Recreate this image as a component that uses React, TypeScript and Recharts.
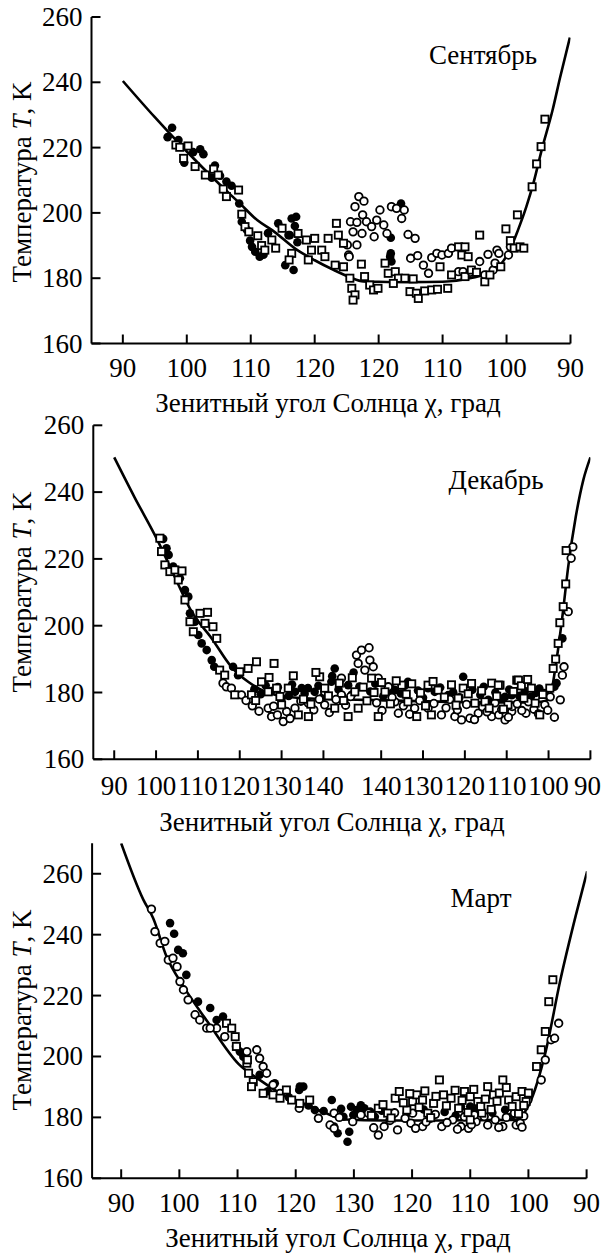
import { ComposedChart, Scatter, Line, XAxis, YAxis } from "recharts";

// x is a running coordinate along the sun's path: 90 -> max zenith angle -> 90
// (one unit = 1 degree), t is temperature in K

// --- September ---
const sepTicks = [0, 10, 20, 30, 40, 50, 60, 70];
const sepTickLabels = ["90", "100", "110", "120", "120", "110", "100", "90"];
const sepCurve = [
  [0, 240.4], [5, 229.3], [10, 218.8], [15, 209], [18.3, 202.9], [21, 197.8], [23.5, 194.5],
  [27, 189], [30, 185.5], [33, 182.5], [35.5, 180.3], [37.6, 179.0], [40, 178.9], [45, 178.8],
  [50, 178.9], [53.8, 179.8], [56.9, 181.5], [59, 184.0], [60.5, 188.6], [61.8, 194.8],
  [63.1, 201.9], [64.2, 209.1], [65.5, 219.3], [67.2, 231.5], [68.4, 241.7], [69.9, 253.7],
];
const sepFilled = [
  [7.7, 226.1], [7.0, 223.2], [8.7, 222.3], [12.1, 219.5], [12.6, 218], [9.6, 215.4], [14.4, 214.5],
  [13.9, 210.8], [16.2, 209.6], [17.0, 208.3], [18.2, 202.9], [18.6, 197.3], [19.4, 194.8],
  [20.2, 189.6], [20.7, 188.1], [21.4, 186.6], [22.7, 193.8], [24.3, 196.8], [26.4, 198.3],
  [25.4, 184.0], [26.7, 182.5], [25.9, 193.2], [27.1, 198.8], [26.1, 193.2], [41.9, 187.6],
  [41.8, 186.6], [41.9, 192.4], [43.5, 202.9], [42.0, 185.1], [11.0, 218.6], [15.2, 211.4],
  [19.9, 191.5], [22.0, 187.2], [26.9, 196.0], [27.3, 191.0],
];
const sepOpen = [
  [36.9, 205.0], [37.7, 203.6], [36.3, 201.9], [40.2, 200.9], [37.5, 199.4], [35.6, 197.3],
  [36.6, 197.1], [38.1, 197.3], [39.7, 197.8], [40.8, 196.3], [38.9, 195.8], [36.0, 194.2],
  [37.4, 193.7], [39.3, 192.7], [41.3, 193.7], [36.6, 190.2], [35.3, 187.1], [42.0, 201.9],
  [42.8, 201.4], [44.0, 200.9], [43.6, 198.3], [44.6, 193.4], [45.7, 192.2], [45.0, 186.1],
  [46.1, 186.9], [48.3, 186.3], [49.1, 187.6], [49.9, 187.1], [50.9, 187.6], [51.4, 189.2],
  [47.0, 184.0], [47.8, 181.5], [52.5, 182.0], [53.2, 182.0], [54.3, 181.8], [55.8, 185.1],
  [57.1, 187.3], [58.5, 188.6], [56.6, 181.0], [57.9, 182.5], [58.2, 184.6], [58.8, 187.6],
  [60.6, 189.6], [60.3, 187.1], [35.1, 190.2], [35.4, 186.6],
];
const sepSquares = [
  [8.3, 220.8], [8.9, 220.1], [10.2, 220.5], [9.5, 216.7], [11.3, 214.2], [12.9, 211.6],
  [14.2, 213.4], [14.9, 211.6], [15.7, 207.3], [16.2, 205.0], [18.1, 207.0], [18.6, 199.6],
  [19.1, 195.8], [19.7, 194.2], [21.1, 193.0], [21.7, 190.0], [22.2, 188.6], [23.3, 191.7],
  [23.9, 189.2], [24.9, 195.3], [26.4, 187.6], [26.0, 185.6], [27.4, 193.7], [28.7, 191.7],
  [30.0, 192.2], [29.5, 188.6], [31.1, 188.6], [32.1, 192.2], [33.4, 196.8], [33.7, 193.2],
  [34.5, 190.7], [31.6, 186.6], [33.2, 184.0], [34.5, 183.5], [29.0, 185.6], [35.5, 180.0],
  [35.8, 176.9], [36.3, 174.9], [36.0, 173.3], [37.3, 184.3], [37.8, 180.5], [38.6, 177.9],
  [39.2, 176.4], [39.9, 176.9], [41.0, 184.6], [41.5, 181.5], [42.6, 182.0], [43.1, 180.0],
  [42.3, 178.4], [44.1, 180.0], [45.4, 179.8], [44.9, 175.9], [45.9, 175.4], [46.2, 173.8],
  [47.2, 176.1], [48.3, 176.4], [49.2, 176.6], [50.8, 176.9], [49.6, 183.5], [51.4, 181.0],
  [52.5, 189.6], [53.5, 189.6], [53.0, 187.1], [54.0, 186.6], [55.8, 193.2], [53.5, 180.5],
  [54.5, 182.5], [55.3, 181.8], [56.6, 178.9], [57.4, 181.0], [59.9, 195.1], [60.6, 191.5],
  [61.2, 189.2], [62.1, 189.6], [62.7, 189.2], [61.7, 199.4], [64.0, 208.0], [64.7, 215.0],
  [65.4, 220.3], [66.0, 228.7], [59.1, 183.5],
];

// --- December ---
const decTicks = [0, 10, 20, 30, 40, 50, 63.8, 73.8, 83.8, 93.8, 103.8, 113.8];
const decTickLabels = ["90", "100", "110", "120", "130", "140", "140", "130", "120", "110", "100", "90"];
const decCurve = [
  [0, 250.4], [4.8, 238.6], [10.3, 225.7], [14.5, 214.5], [18.5, 204.2], [23.3, 196.2],
  [28, 187.7], [32, 183.2], [38.4, 179.3], [45, 178.3], [60, 177.8], [80, 177.2], [95, 177],
  [102, 177.2], [103.9, 178], [105.7, 189.7], [107.1, 202.7], [108.5, 217.7], [110.3, 232.6],
  [112.1, 243.6], [113.8, 250.4],
];
const decFilled = [
  [11.7, 226.0], [12.5, 223.2], [13.0, 221.2], [14.1, 217.7], [15.7, 214.2], [16.9, 210.7],
  [17.7, 208.7], [18.1, 203.7], [19.3, 201.2], [20.1, 197.2], [20.9, 194.7], [22.1, 192.7],
  [23.3, 189.7], [23.9, 187.7], [28.4, 187.7], [29.6, 185.2], [46.3, 181.3], [52.7, 187.2],
  [51.9, 183.2], [55.9, 182.2], [70.2, 183.2], [83.4, 184.7], [75.0, 181.3], [65.5, 180.2],
  [43.2, 180.2], [95.0, 179.2], [40.0, 178.3], [89.4, 177.8], [107.1, 196.2], [105.2, 181.7],
  [102.9, 179.8], [105.7, 182.8], [44.8, 181.3], [47.9, 180.2], [67.1, 180.7], [76.6, 180.2],
  [79.8, 179.2], [93.4, 178.7], [33.5, 181.0], [35.0, 179.5], [36.2, 182.1], [37.5, 180.4],
  [39.1, 181.6], [41.7, 179.0], [42.5, 182.4], [45.5, 179.6], [48.8, 182.0], [49.9, 178.7],
  [53.6, 180.9], [56.8, 179.4], [58.6, 181.8], [61.2, 180.3], [62.4, 182.6], [64.3, 178.9],
  [66.2, 181.2], [68.5, 179.7], [69.4, 182.0], [72.6, 180.6], [73.8, 178.4], [77.9, 181.5],
  [81.0, 180.1], [82.5, 178.6], [85.6, 180.8], [87.5, 179.3], [88.3, 181.7], [91.1, 180.0],
  [92.7, 178.2], [94.4, 180.9], [96.8, 179.0], [98.1, 180.4], [99.6, 178.8], [100.8, 179.9],
  [101.6, 181.2], [52.1, 184.9], [57.2, 186.0],
];
const decOpen = [
  [26.0, 182.8], [26.8, 181.7], [28.0, 181.3], [36.8, 175.3], [37.6, 172.8], [39.0, 173.3],
  [40.4, 171.3], [41.2, 174.3], [43.2, 175.3], [46.4, 176.8], [50.3, 176.3], [54.3, 184.3],
  [57.9, 191.2], [59.1, 192.7], [60.9, 193.4], [58.3, 188.7], [61.1, 189.7], [59.9, 186.7],
  [61.9, 187.7], [63.1, 184.3], [65.5, 181.7], [67.1, 177.2], [67.9, 173.8], [71.8, 175.3],
  [75.0, 175.3], [78.2, 173.3], [81.4, 172.8], [83.0, 171.8], [85.0, 172.3], [87.0, 173.8],
  [90.2, 172.8], [93.4, 171.8], [95.0, 174.3], [30.4, 179.3], [50.3, 180.2], [54.3, 179.3],
  [91.9, 173.3], [95.1, 175.8], [98.4, 173.8], [102.9, 176.3], [105.2, 172.6], [106.6, 177.8],
  [107.5, 187.7], [107.1, 185.2], [108.5, 204.2], [109.2, 220.2], [109.6, 223.6],
  [31.5, 177.6], [33.0, 176.0], [34.6, 174.4], [38.1, 175.9], [42.0, 172.2], [44.6, 177.4],
  [47.7, 174.8], [49.0, 178.0], [51.4, 174.0], [53.0, 177.9], [55.3, 176.2], [56.5, 178.8],
  [62.7, 176.9], [64.0, 174.6], [66.4, 178.5], [69.1, 176.0], [70.6, 173.5], [73.0, 177.6],
  [76.4, 176.7], [79.3, 175.4], [80.2, 177.9], [82.0, 174.8], [84.2, 176.4], [86.1, 171.9],
  [88.0, 175.7], [89.1, 174.2], [91.0, 176.9], [92.6, 174.9], [94.2, 172.6], [96.3, 176.6],
  [97.4, 174.6], [99.0, 177.2], [100.3, 175.0], [101.4, 173.6], [103.6, 174.7], [104.2, 178.7],
];
const decSquares = [
  [10.9, 226.2], [11.3, 222.2], [12.1, 218.2], [13.3, 216.2], [14.5, 216.7], [16.2, 216.4],
  [15.3, 213.7], [16.9, 207.7], [18.1, 201.2], [18.9, 198.2], [20.5, 203.7], [22.3, 204.0],
  [21.7, 200.7], [23.6, 199.7], [24.5, 196.2], [25.2, 186.7], [26.4, 185.2], [28.8, 179.3],
  [30.0, 186.2], [32.0, 187.2], [34.0, 189.2], [38.2, 188.7], [32.8, 179.3], [35.2, 183.2],
  [36.8, 180.2], [38.8, 181.3], [41.6, 181.3], [44.0, 173.3], [46.4, 172.8], [49.1, 184.7],
  [50.3, 181.3], [52.7, 175.3], [55.9, 172.8], [58.3, 175.3], [61.5, 184.3], [63.1, 172.8],
  [64.7, 180.2], [68.7, 182.2], [72.3, 172.8], [75.0, 182.2], [77.4, 180.7], [75.8, 173.3],
  [82.2, 178.3], [83.4, 181.3], [86.2, 176.8], [90.2, 182.8], [92.2, 182.2], [88.6, 177.2],
  [96.2, 183.7], [94.1, 176.3], [57.5, 180.2], [40.0, 176.3], [70.2, 177.2], [96.6, 183.7],
  [97.3, 182.0], [99.7, 181.3], [101.7, 173.3], [104.1, 181.3], [104.9, 187.2], [105.5, 190.0],
  [106.1, 194.7], [106.5, 200.9], [107.3, 205.7], [107.9, 212.5], [108.0, 222.5], [91.8, 182.2],
  [33.8, 177.6], [37.0, 184.5], [39.6, 178.8], [42.8, 185.0], [45.2, 178.0], [47.0, 176.5],
  [48.2, 186.0], [51.2, 179.0], [53.8, 182.8], [54.8, 177.6], [56.9, 184.4], [59.5, 181.6],
  [60.4, 177.5], [62.1, 180.0], [63.9, 183.0], [66.0, 176.6], [67.4, 183.5], [69.8, 179.5],
  [71.1, 182.6], [73.2, 179.9], [74.4, 176.0], [76.2, 183.3], [78.9, 178.6], [80.6, 182.3],
  [81.7, 176.2], [84.6, 179.6], [85.4, 182.7], [87.8, 180.5], [89.6, 175.3], [91.4, 178.9],
  [93.0, 175.0], [95.4, 180.3], [97.9, 178.3], [98.8, 183.9], [100.6, 176.8], [102.4, 179.4],
];

// --- March ---
const marTicks = [0, 10, 20, 30, 40, 50, 60, 70, 80];
const marTickLabels = ["90", "100", "110", "120", "130", "120", "110", "100", "90"];
const marCurve = [
  [0, 270], [3.8, 251.5], [5.5, 245.4], [7.8, 232.8], [10.7, 223], [15, 211], [20.2, 197.5],
  [23.8, 192.3], [28.4, 186.8], [31.9, 184.1], [35, 181.5], [38.5, 179.3], [45, 179], [55, 179],
  [67.6, 179.2], [70.2, 184.6], [72.9, 201.1], [75.5, 225.2], [78.1, 246], [80.1, 260.8],
];
const marFilled = [
  [8.4, 243.8], [9.1, 240.3], [9.8, 235.0], [10.6, 233.9], [11.2, 226.8], [13.2, 218.0],
  [15.3, 215.9], [16.4, 212.0], [17.5, 213.1], [20.4, 201.6], [21.0, 199.9], [23.8, 194.0],
  [26.4, 191.2], [30.7, 190.1], [31.3, 190.1], [30.6, 189.0], [36.2, 185.7], [36.6, 177.0],
  [37.2, 174.8], [38.9, 172.0], [39.2, 175.3], [39.5, 183.5], [40.5, 182.4], [41.8, 183.0],
  [42.8, 181.9], [38.2, 180.2], [33.3, 182.4], [58.4, 183.5], [61.0, 182.4], [49.1, 181.4],
  [37.8, 182.8], [39.9, 180.8], [41.2, 184.0], [43.6, 180.2], [44.8, 182.2], [46.6, 180.7],
  [52.0, 182.6], [55.6, 181.8], [57.5, 180.6], [60.0, 183.6], [63.8, 181.5], [66.0, 182.5],
  [67.0, 180.2], [25.2, 188.6], [28.8, 186.6], [32.2, 183.9], [34.8, 182.1],
];
const marOpen = [
  [5.2, 248.4], [5.8, 241.0], [6.7, 237.2], [7.5, 237.8], [8.1, 231.7], [8.9, 232.3], [9.6, 229.5],
  [10.1, 224.6], [10.7, 221.9], [11.5, 218.6], [12.7, 213.7], [13.5, 212.0], [14.7, 209.3],
  [16.4, 209.3], [17.8, 206.5], [19.8, 203.3], [21.6, 201.6], [23.3, 202.2], [23.8, 199.4],
  [24.4, 196.7], [25.0, 194.5], [26.1, 190.7], [27.3, 187.9], [15.3, 209.3], [30.6, 183.0],
  [33.9, 179.7], [35.9, 177.5], [36.6, 176.4], [36.6, 181.4], [44.2, 174.2], [45.2, 177.0],
  [47.5, 175.9], [48.8, 179.7], [49.8, 178.1], [51.8, 177.0], [53.1, 179.7], [55.1, 177.0],
  [57.0, 179.2], [58.4, 177.0], [59.7, 176.4], [61.0, 178.6], [63.0, 177.5], [64.3, 179.2],
  [65.6, 177.0], [67.6, 181.4], [67.9, 177.5], [68.6, 178.1], [69.9, 185.7], [72.2, 192.3],
  [72.9, 198.9], [73.9, 205.5], [74.5, 206.0], [75.2, 210.9], [42.5, 181.4], [50.1, 181.4],
  [60.7, 180.8], [37.5, 180.0], [39.8, 178.6], [41.2, 180.8], [43.4, 176.6], [46.2, 179.0],
  [47.0, 181.5], [50.6, 176.4], [52.4, 178.5], [54.0, 181.0], [56.0, 178.3], [57.8, 176.1],
  [59.0, 180.2], [60.2, 177.6], [62.4, 180.3], [64.9, 176.7], [66.2, 180.0], [68.9, 176.8],
  [69.2, 180.4],
];
const marSquares = [
  [18.1, 210.9], [19.0, 209.3], [19.6, 206.5], [19.8, 203.3], [21.6, 197.8], [21.9, 194.5],
  [22.7, 191.7], [24.4, 187.9], [26.1, 187.4], [27.3, 186.3], [29.3, 185.7], [30.7, 184.6],
  [32.4, 185.7], [28.4, 189.0], [22.4, 190.1], [21.7, 198.9], [44.2, 183.0], [45.8, 181.4],
  [47.1, 186.3], [47.8, 188.5], [49.1, 182.4], [50.1, 185.2], [50.8, 187.4], [51.8, 185.7],
  [52.7, 181.4], [53.7, 184.6], [54.7, 192.3], [55.4, 187.4], [56.7, 186.3], [58.0, 183.0],
  [59.0, 188.5], [60.0, 186.8], [61.3, 185.2], [62.0, 181.4], [63.0, 190.1], [64.0, 187.4],
  [65.0, 188.0], [65.6, 192.3], [66.6, 185.7], [67.9, 186.8], [68.9, 188.5], [69.6, 185.2],
  [71.4, 196.7], [72.2, 202.2], [72.9, 208.2], [73.5, 218.0], [74.2, 225.2], [60.0, 179.2],
  [43.0, 180.6], [45.0, 184.2], [46.4, 179.8], [48.5, 184.8], [49.6, 187.8], [51.2, 183.3],
  [52.2, 188.7], [53.2, 179.9], [54.1, 186.9], [55.9, 183.8], [57.4, 188.9], [58.6, 185.6],
  [59.6, 181.6], [60.6, 189.2], [61.8, 183.6], [62.6, 186.0], [63.6, 182.6], [64.6, 185.3],
  [66.2, 189.8], [67.2, 183.6], [68.3, 181.2], [69.2, 183.9], [70.0, 188.0],
];

const yTicks = [160, 180, 200, 220, 240, 260];

const toRows = (a: number[][]) => a.map(([p, t]) => ({ p, t }));

const FONT = '"Liberation Serif", "Times New Roman", serif';
const FS = 27;
const PAGE_W = 602;

const FilledDot = (props: any) => <circle cx={props.cx} cy={props.cy} r={4.3} fill="#000" />;
const OpenDot = (props: any) => (
  <circle cx={props.cx} cy={props.cy} r={3.8} fill="#fff" stroke="#000" strokeWidth={1.8} />
);
const OpenSquare = (props: any) => (
  <rect x={props.cx - 3.6} y={props.cy - 3.6} width={7.2} height={7.2} fill="#fff" stroke="#000" strokeWidth={1.8} />
);

function Panel(props: any) {
  const { top, height, margin, xDomain, ticks, labels, yDomain, curve, filled, open, squares, labelGap } = props;
  const XTick = (tp: any) => {
    const i = ticks.indexOf(tp.payload.value);
    const label = labels[i];
    // keep the last label inside the page
    const halfW = (label.length * FS * 0.5) / 2;
    const tx = Math.min(tp.x, PAGE_W - 1 - halfW);
    return (
      <g>
        <line x1={tp.x} x2={tp.x} y1={tp.y} y2={tp.y - 9} stroke="#000" strokeWidth={2} />
        <text x={tx} y={tp.y + labelGap} textAnchor="middle" dominantBaseline="central" fontFamily={FONT} fontSize={FS} fill="#000">
          {label}
        </text>
      </g>
    );
  };
  const YTick = (tp: any) => (
    <g>
      <line x1={tp.x} x2={tp.x + 9} y1={tp.y} y2={tp.y} stroke="#000" strokeWidth={2} />
      <text x={tp.x - 9} y={tp.y} textAnchor="end" dominantBaseline="central" fontFamily={FONT} fontSize={FS} fill="#000">
        {tp.payload.value}
      </text>
    </g>
  );
  return (
    <div style={{ position: "absolute", left: 0, top, width: PAGE_W, height }}>
      <ComposedChart width={PAGE_W} height={height} margin={margin}>
        <XAxis
          type="number"
          dataKey="p"
          domain={xDomain}
          ticks={ticks}
          allowDataOverflow
          height={30}
          tickSize={0}
          tickMargin={0}
          tickLine={false}
          axisLine={{ stroke: "#000", strokeWidth: 2 }}
          tick={XTick}
          interval={0}
        />
        <YAxis
          type="number"
          dataKey="t"
          domain={yDomain}
          ticks={yTicks}
          allowDataOverflow
          width={60}
          tickSize={0}
          tickMargin={0}
          tickLine={false}
          axisLine={{ stroke: "#000", strokeWidth: 2 }}
          tick={YTick}
          interval={0}
        />
        <Line data={toRows(curve)} dataKey="t" type="monotone" stroke="#000" strokeWidth={2.6} dot={false} isAnimationActive={false} />
        <Scatter data={toRows(filled)} shape={FilledDot} isAnimationActive={false} />
        <Scatter data={toRows(open)} shape={OpenDot} isAnimationActive={false} />
        <Scatter data={toRows(squares)} shape={OpenSquare} isAnimationActive={false} />
      </ComposedChart>
    </div>
  );
}

const txt: any = { position: "absolute", fontFamily: FONT, fontSize: FS, color: "#000", whiteSpace: "nowrap", lineHeight: 1 };

function YTitle({ x, y }: { x: number; y: number }) {
  return (
    <div style={{ ...txt, left: x, top: y, transform: "translate(-50%, -50%) rotate(-90deg)" }}>
      Температура <i>T</i>, K
    </div>
  );
}

function XTitle({ x, y }: { x: number; y: number }) {
  return (
    <div style={{ ...txt, left: x, top: y, transform: "translate(-50%, -50%)" }}>
      Зенитный угол Солнца χ, град
    </div>
  );
}

function Month({ x, y, text }: { x: number; y: number; text: string }) {
  return <div style={{ ...txt, left: x, top: y, transform: "translate(-50%, -50%)" }}>{text}</div>;
}

export default function App() {
  return (
    <div style={{ position: "absolute", left: 0, top: 0, width: PAGE_W, height: 1253, background: "#fff", overflow: "hidden" }}>
      <Panel
        top={0}
        height={420}
        margin={{ top: 17, right: 31.5, bottom: 46.5, left: 31.5 }}
        xDomain={[-4.9, 70]}
        ticks={sepTicks}
        labels={sepTickLabels}
        yDomain={[160, 260]}
        curve={sepCurve}
        filled={sepFilled}
        open={sepOpen}
        squares={sepSquares}
        labelGap={24.5}
      />
      <Panel
        top={410}
        height={420}
        margin={{ top: 15.3, right: 11.6, bottom: 40.7, left: 33.3 }}
        xDomain={[-5, 113.8]}
        ticks={decTicks}
        labels={decTickLabels}
        yDomain={[160, 260]}
        curve={decCurve}
        filled={decFilled}
        open={decOpen}
        squares={decSquares}
        labelGap={27}
      />
      <Panel
        top={830}
        height={423}
        margin={{ top: 13.3, right: 15.4, bottom: 44.7, left: 32.1 }}
        xDomain={[-5, 80]}
        ticks={marTicks}
        labels={marTickLabels}
        yDomain={[160, 270]}
        curve={marCurve}
        filled={marFilled}
        open={marOpen}
        squares={marSquares}
        labelGap={24.7}
      />
      <YTitle x={22} y={182} />
      <YTitle x={22} y={592} />
      <YTitle x={22} y={1010} />
      <XTitle x={328} y={403} />
      <XTitle x={332} y={822} />
      <XTitle x={338} y={1238} />
      <Month x={483} y={55} text="Сентябрь" />
      <Month x={496} y={480} text="Декабрь" />
      <Month x={481} y={898} text="Март" />
    </div>
  );
}
